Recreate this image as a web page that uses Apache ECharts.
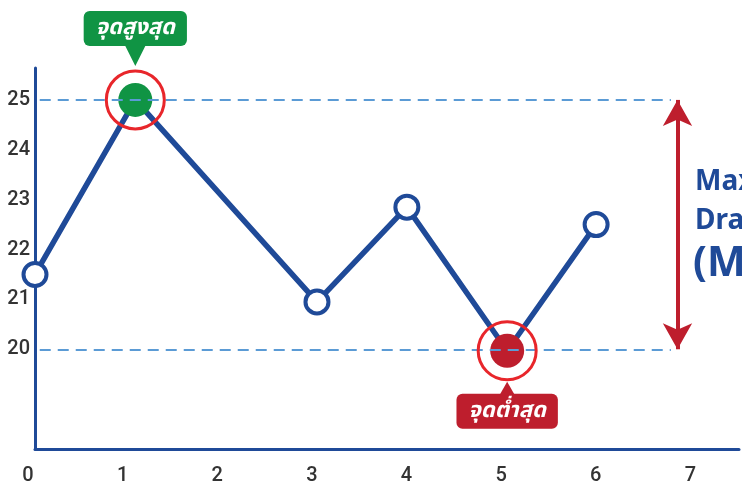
<!DOCTYPE html>
<html><head><meta charset="utf-8">
<script src="https://cdn.jsdelivr.net/npm/echarts@6/dist/echarts.min.js"></script>
<style>html,body{margin:0;padding:0;background:#fff}#c{width:742px;height:486px}</style>
</head><body><div id="c"></div>
<script>
const xTicks = [0, 1, 2, 3, 4, 5, 6, 7];
const yTicks = [20, 21, 22, 23, 24, 25];
const xValues = [0, 1.06, 2.98, 3.93, 4.99, 5.93];
const yValues = [21.5, 25, 20.95, 22.85, 19.97, 22.5];
const highLabel = 'จุดสูงสุด';
const lowLabel = 'จุดต่ำสุด';
const sideLines = ['Maximum', 'Drawdown', '(MDD)'];
const highValue = 25, lowValue = 20, arrowX = 6.79;

const BLUE = '#1f4a98', DASH = '#5b9bd5', GREEN = '#109444', RED = '#be1e2d', RING = '#e8262b';
const FONT = '"Noto Sans Thai","Noto Sans","DejaVu Sans",sans-serif';
const TICKFONT = 'Roboto, "DejaVu Sans Condensed", sans-serif';

const hi = yValues.indexOf(Math.max(...yValues));
const lo = yValues.indexOf(Math.min(...yValues));

const data = xValues.map((x, i) => {
  const d = { value: [x, yValues[i]] };
  if (i === hi || i === lo) {
    const c = i === hi ? GREEN : RED;
    d.symbolSize = 34;
    d.itemStyle = { color: c, borderWidth: 0 };
    d.label = {
      show: true, position: i === hi ? 'top' : 'bottom', distance: i === hi ? 37 : 26,
      formatter: i === hi ? highLabel : lowLabel,
      color: '#fff', fontSize: 22, fontWeight: 'bold', fontStyle: 'italic', fontFamily: FONT,
      backgroundColor: c, borderRadius: 6, padding: [8, 12, 5, 12]
    };
  }
  return d;
});

const chart = echarts.init(document.getElementById('c'));
chart.setOption({
  animation: false,
  grid: { left: 35, right: 0, top: 68, bottom: 36 },
  xAxis: {
    type: 'value', min: 0, max: 7.44, interval: 1,
    axisLine: { show: true, lineStyle: { color: BLUE, width: 3 } },
    axisTick: { show: false }, splitLine: { show: false },
    axisLabel: { color: '#333', fontSize: 20, fontWeight: 500, fontFamily: TICKFONT, margin: 17, padding: [0, 14, 0, 0],
      formatter: v => xTicks.includes(v) ? String(v) : '' }
  },
  yAxis: {
    type: 'value', min: 18, max: 25.64, interval: 1,
    axisLine: { show: true, lineStyle: { color: BLUE, width: 3 } },
    axisTick: { show: false }, splitLine: { show: false },
    axisLabel: { color: '#333', fontSize: 20, fontWeight: 500, fontFamily: TICKFONT, margin: 5,
      formatter: v => yTicks.includes(v) ? String(v) : '' }
  },
  series: [{
    type: 'line', data: data,
    lineStyle: { color: BLUE, width: 5.5 },
    symbol: 'circle', symbolSize: 23,
    itemStyle: { color: '#fff', borderColor: BLUE, borderWidth: 4 },
    z: 3,
    markLine: {
      silent: true, symbol: ['none', 'none'], label: { show: false },
      data: [
        [{ coord: [0.05, highValue], lineStyle: { color: DASH, width: 2, type: [11, 7] } }, { coord: [6.72, highValue] }],
        [{ coord: [0.05, lowValue], lineStyle: { color: DASH, width: 2, type: [11, 7] } }, { coord: [6.72, lowValue] }],
        [{ coord: [arrowX, highValue], symbol: 'arrow', symbolSize: [22, 26], lineStyle: { color: RED, width: 4, type: 'solid' } },
         { coord: [arrowX, lowValue], symbol: 'arrow', symbolSize: [22, 26] }]
      ]
    },
    markPoint: {
      silent: true, label: { show: false },
      data: [
        { coord: [xValues[hi], yValues[hi]], symbol: 'circle', symbolSize: 58,
          itemStyle: { color: 'rgba(0,0,0,0)', borderColor: RING, borderWidth: 3 } },
        { coord: [xValues[lo], yValues[lo]], symbol: 'circle', symbolSize: 58,
          itemStyle: { color: 'rgba(0,0,0,0)', borderColor: RING, borderWidth: 3 } },
        { coord: [xValues[hi], yValues[hi]], symbol: 'triangle', symbolRotate: 180, symbolSize: [20, 20],
          symbolOffset: [0, -44], itemStyle: { color: GREEN } },
        { coord: [xValues[lo], yValues[lo]], symbol: 'triangle', symbolSize: [16, 14],
          symbolOffset: [0, 38], itemStyle: { color: RED } }
      ]
    }
  }],
  graphic: [
    { type: 'text', left: 695, top: 168, style: { text: sideLines[0], fill: BLUE, font: 'bold 28px "Noto Sans", sans-serif' } },
    { type: 'text', left: 695, top: 207, style: { text: sideLines[1], fill: BLUE, font: 'bold 28px "Noto Sans", sans-serif' } },
    { type: 'text', left: 693, top: 244, style: { text: sideLines[2], fill: BLUE, font: 'bold 41px "Noto Sans", sans-serif' } }
  ]
});
</script></body></html>
